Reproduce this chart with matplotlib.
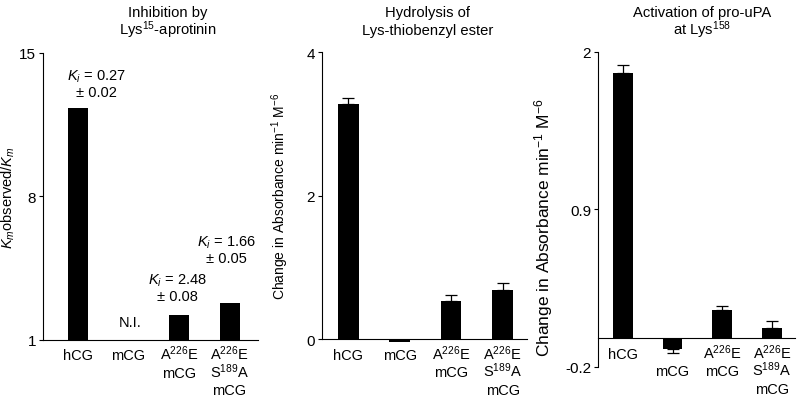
"""
Three-panel bar chart: inhibition, thioester hydrolysis and pro-uPA activation
"""
import numpy as np
import matplotlib
matplotlib.use('Agg')
import matplotlib.pyplot as plt

plt.rcParams['font.family'] = ['Liberation Sans', 'DejaVu Sans']
plt.rcParams['mathtext.fontset'] = 'custom'
plt.rcParams['mathtext.rm'] = 'Liberation Sans'
plt.rcParams['mathtext.it'] = 'Liberation Sans:italic'
plt.rcParams['font.size'] = 10

# data
categories = [['hCG'], ['mCG'], ['A$^{226}$E', 'mCG'],
              ['A$^{226}$E', 'S$^{189}$A', 'mCG']]

inhib_vals = [12.3, 0.0, 2.2, 2.8]          # mCG not inhibited (N.I.)
inhib_notes = ['$K_i$ = 0.27\n± 0.02', 'N.I.', '$K_i$ = 2.48\n± 0.08', '$K_i$ = 1.66\n± 0.05']
inhib_note_xy = [(0.36, 13.5), (1.03, 1.88), (1.96, 3.56), (2.94, 5.41)]

hydro_vals = [3.27, -0.04, 0.53, 0.68]
hydro_err = [0.09, 0.0, 0.08, 0.10]

activ_vals = [1.85, -0.075, 0.196, 0.07]
activ_err = [0.06, 0.03, 0.03, 0.05]

title_lines = [('Inhibition by', 'Lys$^{15}$-aprotinin'),
               ('Hydrolysis of', 'Lys-thiobenzyl ester'),
               ('Activation of pro-uPA', 'at Lys$^{158}$')]
title_x = [0.21, 0.534, 0.8775]

abs_label = 'Change in Absorbance min$^{-1}$ M$^{-6}$'


def one_sided(vals, err):
    """error bar only on the side the bar points to"""
    vals = np.asarray(vals)
    err = np.asarray(err)
    lower = np.where(vals < 0, err, 0)
    upper = np.where(vals >= 0, err, 0)
    return [lower, upper]


def style_axis(ax, ticks, xlim):
    for side in ['top', 'right']:
        ax.spines[side].set_visible(False)
    ax.spines['left'].set_linewidth(0.8)
    ax.spines['bottom'].set_linewidth(0.8)
    ax.set_yticks(ticks)
    ax.set_yticklabels([f'{t:g}' for t in ticks], fontsize=11)
    ax.tick_params(axis='y', length=3, width=0.8, pad=2)
    ax.set_xticks([])
    ax.set_xlim(*xlim)


def category_labels(ax, trans, start_rows, first_px=19.5, step_px=17.5):
    """stack each category label line by line under the axis"""
    for i, lines in enumerate(categories):
        for k, line in enumerate(lines):
            row = start_rows[i] + k
            ax.annotate(line, xy=(i, 0), xycoords=trans,
                        xytext=(0, -(first_px + row * step_px) * 0.72),
                        textcoords='offset points', ha='center', va='baseline',
                        fontsize=10.5, annotation_clip=False)


fig = plt.figure(figsize=(8, 4.02), dpi=100)
x = np.arange(len(categories))
ebar = {'elinewidth': 0.9, 'capthick': 0.9}

# 1. Inhibition by aprotinin
ax1 = fig.add_axes([0.054, 0.152, 0.269, 0.714])
ax1.bar(x, inhib_vals, width=0.4, color='black')
ax1.set_ylim(1, 15)
style_axis(ax1, [1, 8, 15], (-0.69, 3.57))
category_labels(ax1, ax1.get_xaxis_transform(), [0, 0, 0, 0])
for note, (nx, ny) in zip(inhib_notes, inhib_note_xy):
    ax1.text(nx, ny, note, ha='center', va='center', fontsize=10.5, linespacing=1.1)
ax1.set_ylabel('$K_m$observed/$K_m$', fontsize=10.5)
ax1.yaxis.set_label_coords(-0.12, 0.5)

# 2. Hydrolysis of thiobenzyl ester
ax2 = fig.add_axes([0.4025, 0.154, 0.256, 0.714])
ax2.bar(x, hydro_vals, width=0.4, color='black', clip_on=False,
        yerr=one_sided(hydro_vals, hydro_err), capsize=4.5, error_kw=ebar)
ax2.set_ylim(0, 4)
style_axis(ax2, [0, 2, 4], (-0.51, 3.47))
category_labels(ax2, ax2.get_xaxis_transform(), [0, 0, 0, 0])
ax2.set_ylabel(abs_label, fontsize=10)
ax2.yaxis.set_label_coords(-0.151, 0.5)

# 3. Activation of pro-uPA
ax3 = fig.add_axes([0.7475, 0.0846, 0.246, 0.784])
ax3.bar(x, activ_vals, width=0.4, color='black',
        yerr=one_sided(activ_vals, activ_err), capsize=4.5, error_kw=ebar)
ax3.set_ylim(-0.2, 2)
style_axis(ax3, [-0.2, 0.9, 2], (-0.5, 3.46))
ax3.spines['bottom'].set_position(('data', 0))
# mCG label starts one row lower, below its negative bar
category_labels(ax3, ax3.transData, [0, 1, 0, 0])
ax3.set_ylabel(abs_label, fontsize=12.5)
ax3.yaxis.set_label_coords(-0.218, 0.444)

for (line1, line2), tx in zip(title_lines, title_x):
    fig.text(tx, 1 - 17 / 402, line1, ha='center', va='baseline', fontsize=10.6)
    fig.text(tx, 1 - 35 / 402, line2, ha='center', va='baseline', fontsize=10.6)

plt.savefig('out.png', dpi=100)
plt.close()
